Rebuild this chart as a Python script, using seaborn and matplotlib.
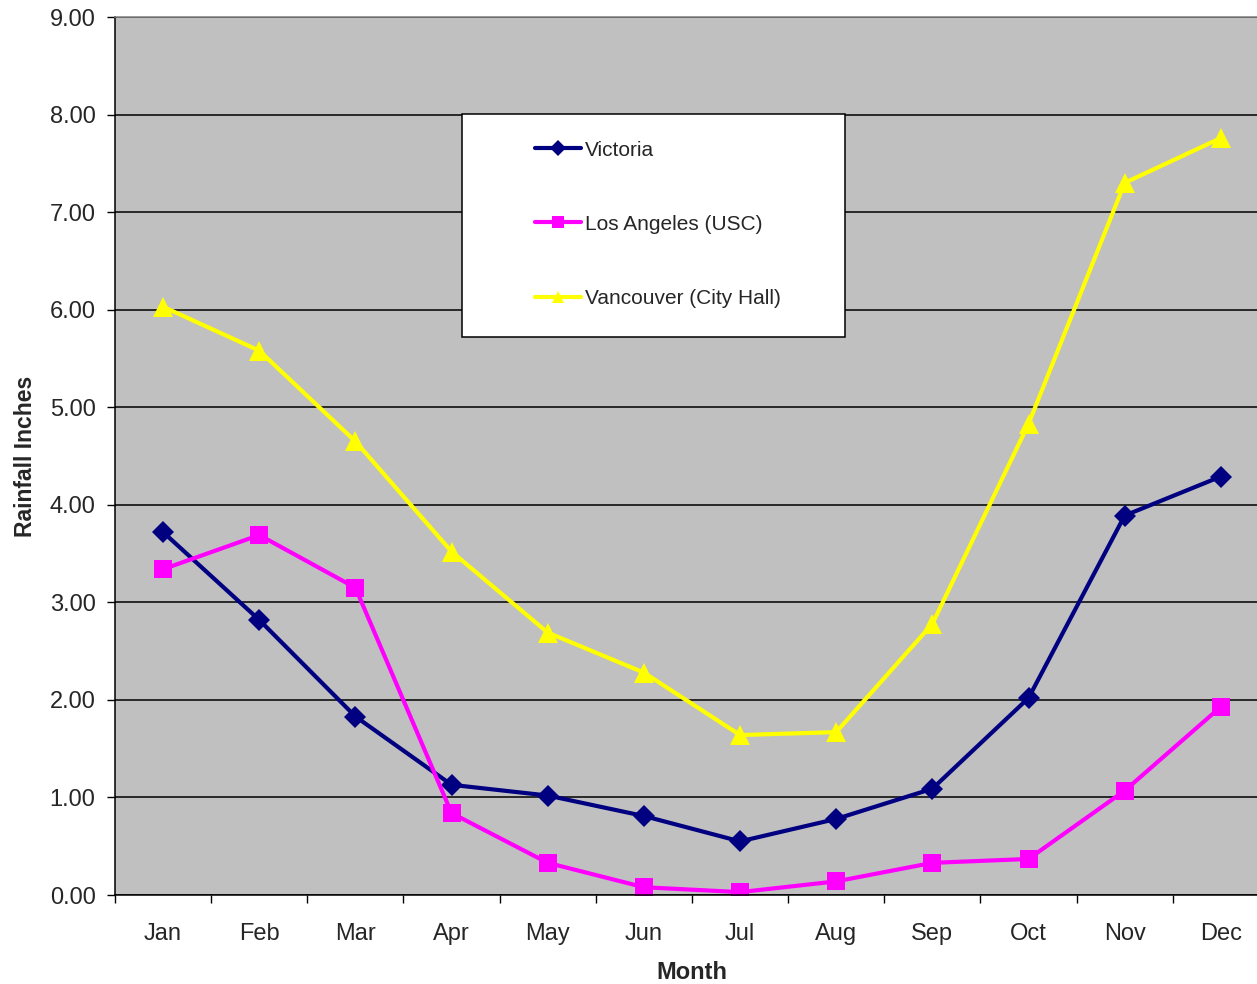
import matplotlib
matplotlib.use("Agg")
import matplotlib.pyplot as plt
from matplotlib.patches import Rectangle
from matplotlib.ticker import FixedLocator, FormatStrFormatter
import seaborn as sns
import pandas as pd

months = ["Jan", "Feb", "Mar", "Apr", "May", "Jun",
          "Jul", "Aug", "Sep", "Oct", "Nov", "Dec"]
victoria = [3.72, 2.82, 1.83, 1.13, 1.02, 0.81, 0.55, 0.78, 1.09, 2.02, 3.89, 4.29]
los_angeles = [3.34, 3.69, 3.15, 0.84, 0.33, 0.08, 0.03, 0.14, 0.33, 0.37, 1.07, 1.93]
vancouver = [6.03, 5.58, 4.65, 3.52, 2.69, 2.28, 1.64, 1.67, 2.78, 4.83, 7.30, 7.76]

series_names = ["Victoria", "Los Angeles (USC)", "Vancouver (City Hall)"]
series_values = [victoria, los_angeles, vancouver]
palette = {"Victoria": "#000080",
           "Los Angeles (USC)": "#FF00FF",
           "Vancouver (City Hall)": "#FFFF00"}
marker_map = {"Victoria": "D",
              "Los Angeles (USC)": "s",
              "Vancouver (City Hall)": "^"}

df = pd.DataFrame({
    "Month": months * len(series_names),
    "Rain": [v for vals in series_values for v in vals],
    "Station": [n for n in series_names for _ in months],
})
df["Pos"] = df["Month"].map({m: i for i, m in enumerate(months)})

sns.set_style("white")
plt.rcParams["font.family"] = ["Liberation Sans", "DejaVu Sans"]

fig = plt.figure(figsize=(12.57, 9.84), dpi=100)
# plot area runs slightly past the right edge of the canvas
ax = fig.add_axes([0.0915, 0.0904, 0.918, 0.8923])
ax.set_facecolor("#C0C0C0")

sns.lineplot(data=df, x="Pos", y="Rain", hue="Station", style="Station",
             palette=palette, markers=marker_map, dashes=False,
             hue_order=series_names, style_order=series_names,
             linewidth=3.0, markersize=13, markeredgewidth=0,
             ax=ax, legend=True)

for line in ax.lines:
    if line.get_marker() == "D":
        line.set_markersize(11)
    elif line.get_marker() == "^":
        line.set_markersize(15)

# Axes limits and ticks
ax.set_xlim(-0.5, 11.5)
ax.set_ylim(0, 9)
ax.set_xticks(range(len(months)))
ax.set_xticklabels(months, fontsize=17)
ax.xaxis.set_minor_locator(FixedLocator([i - 0.5 for i in range(len(months) + 1)]))
ax.tick_params(axis="x", which="major", length=0, pad=20)
ax.tick_params(axis="x", which="minor", length=6, width=1, color="black", direction="out", bottom=True)
ax.set_yticks(range(0, 10))
ax.yaxis.set_major_formatter(FormatStrFormatter("%.2f"))
ax.tick_params(axis="y", which="major", length=6, width=1, color="black",
               direction="out", left=True, labelsize=17, pad=8)

ax.yaxis.grid(True, color="black", linewidth=1.1)
ax.xaxis.grid(False)
ax.set_axisbelow(True)
for side in ["left", "bottom", "top"]:
    ax.spines[side].set_visible(True)
    ax.spines[side].set_color("black")
    ax.spines[side].set_linewidth(1.1)
ax.spines["right"].set_visible(False)
ax.spines["top"].set_color("#808080")

ax.set_xlabel("Month", fontsize=17, fontweight="bold", labelpad=12)
ax.set_ylabel("Rainfall Inches", fontsize=16.5, fontweight="bold", labelpad=9)

# Legend inside a white box
handles, labels = ax.get_legend_handles_labels()
ax.get_legend().remove()
for h in handles:
    h.set_markersize(8)
ax.add_patch(Rectangle((0.3007, 0.6355), 0.3319, 0.254, transform=ax.transAxes,
                       facecolor="white", edgecolor="black", linewidth=1.1, zorder=5))
leg = ax.legend(handles, labels, loc="center left", bbox_to_anchor=(0.364, 0.764),
                frameon=False, fontsize=15, handlelength=2.2, handletextpad=0.2,
                labelspacing=2.65, borderpad=0, borderaxespad=0)
leg.set_zorder(6)

fig.savefig("out.png", dpi=100, facecolor="white")
